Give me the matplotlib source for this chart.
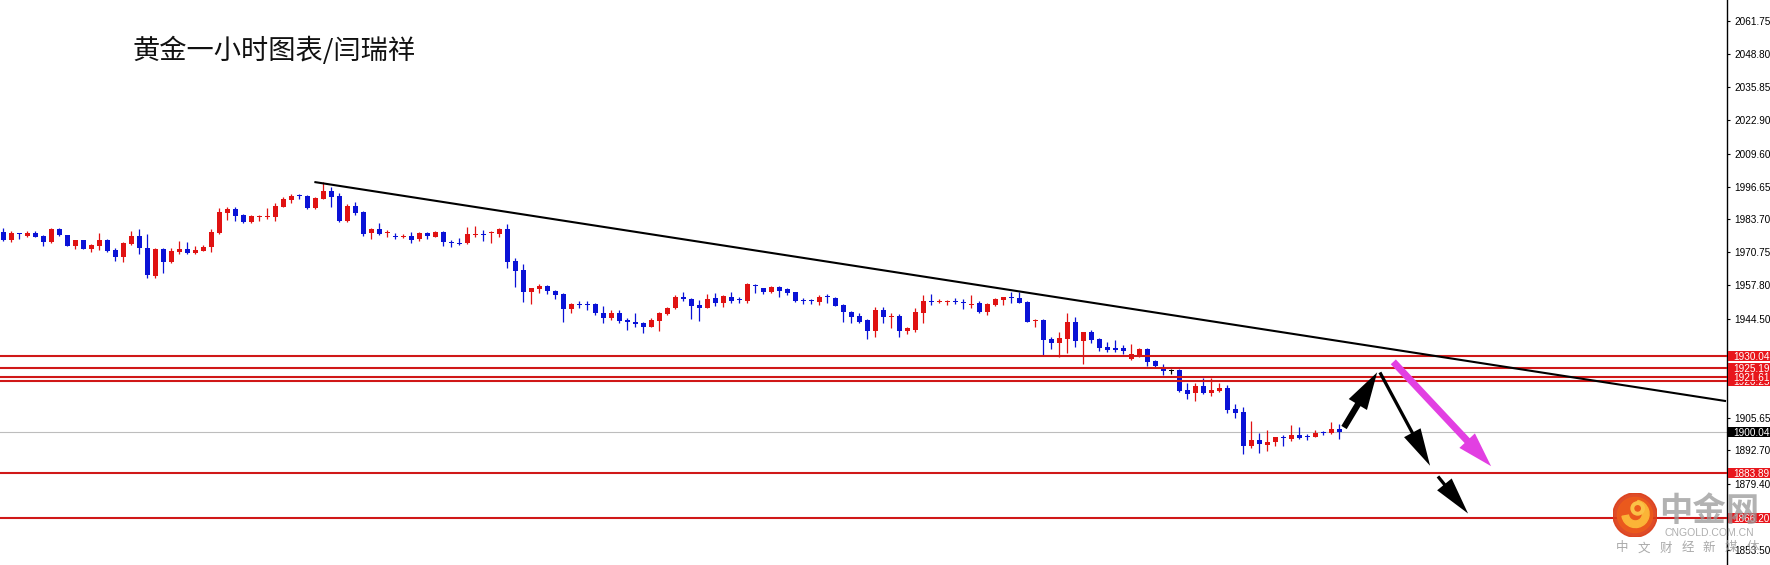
import matplotlib
matplotlib.use("Agg")
import matplotlib.pyplot as plt
from matplotlib.patches import FancyArrowPatch, Circle, Wedge, Rectangle
from matplotlib.transforms import blended_transform_factory

plt.rcParams['font.family'] = ['Liberation Sans', 'DejaVu Sans']

# hourly gold candles
opens = [1978.6, 1975.6, 1978.3, 1977.2, 1978.3, 1977.1, 1974.8, 1979.8, 1977.5, 1973.4,
         1975.5, 1972.2, 1973.4, 1975.6, 1971.7, 1969.0, 1974.0, 1977.1, 1972.3, 1961.6,
         1971.9, 1966.8, 1971.0, 1972.1, 1970.4, 1971.4, 1972.7, 1978.5, 1986.4, 1987.8,
         1985.5, 1982.6, 1984.8, 1984.8, 1984.8, 1988.8, 1991.4, 1993.1, 1993.0, 1988.4,
         1991.9, 1994.9, 1993.0, 1983.2, 1989.0, 1986.7, 1978.2, 1979.8, 1978.2, 1977.2,
         1976.9, 1977.2, 1975.9, 1978.2, 1976.9, 1978.8, 1974.7, 1974.4, 1974.3, 1977.6,
         1978.0, 1978.2, 1978.0, 1980.0, 1967.3, 1963.8, 1955.3, 1956.4, 1957.6, 1955.5,
         1954.3, 1948.3, 1950.3, 1950.3, 1950.3, 1947.0, 1945.0, 1947.0, 1944.1, 1943.4,
         1942.8, 1941.5, 1943.8, 1946.5, 1948.7, 1953.3, 1952.4, 1950.0, 1949.0, 1952.6,
         1950.7, 1953.3, 1952.2, 1951.7, 1958.0, 1956.6, 1955.3, 1957.2, 1956.2, 1955.0,
         1952.0, 1951.7, 1951.3, 1953.6, 1952.6, 1950.0, 1947.4, 1945.7, 1944.1, 1939.8,
         1948.0, 1945.3, 1945.7, 1939.9, 1940.0, 1947.0, 1951.7, 1951.1, 1951.2, 1951.6,
         1951.1, 1950.1, 1950.9, 1947.4, 1950.0, 1952.0, 1953.0, 1952.8, 1951.3, 1943.7,
         1944.1, 1936.6, 1935.2, 1936.7, 1943.3, 1935.8, 1939.2, 1936.6, 1933.6, 1933.2,
         1932.9, 1928.7, 1930.3, 1932.7, 1927.9, 1925.7, 1924.1, 1924.4, 1916.5, 1915.2,
         1918.1, 1915.5, 1916.1, 1917.4, 1909.0, 1907.9, 1894.6, 1896.8, 1895.0, 1895.9,
         1898.1, 1897.2, 1898.7, 1898.1, 1898.1, 1899.7, 1899.4, 1901.2]
highs = [1980.2, 1979.2, 1978.3, 1979.2, 1979.2, 1977.6, 1980.2, 1980.3, 1977.7, 1975.6,
         1975.6, 1974.0, 1978.3, 1975.9, 1972.3, 1975.0, 1979.2, 1979.9, 1978.0, 1972.6,
         1972.3, 1972.3, 1975.1, 1974.7, 1973.3, 1973.5, 1979.8, 1988.1, 1988.8, 1988.6,
         1985.7, 1985.5, 1985.5, 1988.2, 1990.3, 1992.7, 1993.6, 1993.7, 1993.4, 1992.4,
         1998.5, 1996.4, 1994.3, 1989.8, 1990.5, 1987.0, 1980.2, 1982.2, 1979.6, 1978.2,
         1977.9, 1978.6, 1978.8, 1978.9, 1979.2, 1979.2, 1975.6, 1976.3, 1980.9, 1981.1,
         1979.4, 1979.0, 1980.5, 1981.9, 1968.7, 1966.0, 1956.7, 1958.3, 1958.0, 1955.9,
         1954.6, 1950.7, 1951.5, 1951.7, 1950.7, 1949.6, 1948.0, 1948.0, 1944.8, 1947.0,
         1943.4, 1944.8, 1947.4, 1949.4, 1954.0, 1955.1, 1952.9, 1952.0, 1954.3, 1954.7,
         1954.0, 1955.1, 1953.2, 1958.6, 1958.3, 1956.8, 1957.5, 1957.5, 1956.6, 1955.3,
         1952.9, 1952.5, 1954.1, 1954.2, 1953.0, 1950.3, 1947.8, 1946.7, 1944.4, 1949.4,
         1949.4, 1946.7, 1946.5, 1941.5, 1948.7, 1954.0, 1954.2, 1952.2, 1952.0, 1952.6,
         1952.4, 1954.0, 1951.5, 1950.9, 1952.6, 1953.3, 1955.3, 1955.3, 1951.6, 1944.4,
         1944.4, 1937.5, 1939.5, 1946.7, 1945.4, 1939.5, 1940.2, 1936.9, 1935.6, 1936.2,
         1934.3, 1934.5, 1933.2, 1932.9, 1928.3, 1926.6, 1924.8, 1924.7, 1919.2, 1919.2,
         1921.1, 1921.1, 1919.2, 1918.5, 1911.0, 1909.7, 1904.4, 1899.4, 1900.8, 1898.1,
         1898.8, 1902.7, 1901.8, 1899.1, 1900.8, 1900.4, 1903.8, 1903.0]
lows = [1975.2, 1974.7, 1976.0, 1976.7, 1976.7, 1973.4, 1974.3, 1977.2, 1973.3, 1972.2,
        1972.1, 1970.8, 1971.7, 1971.0, 1967.3, 1967.1, 1973.8, 1970.0, 1960.5, 1960.5,
        1962.7, 1966.7, 1970.0, 1970.1, 1970.1, 1971.3, 1970.8, 1978.0, 1983.5, 1983.0,
        1982.4, 1982.4, 1983.2, 1983.8, 1983.2, 1988.5, 1990.1, 1991.8, 1987.7, 1988.0,
        1991.6, 1988.8, 1982.8, 1982.8, 1985.5, 1977.3, 1976.1, 1977.7, 1976.7, 1976.1,
        1976.4, 1974.6, 1975.4, 1975.9, 1976.7, 1973.4, 1972.7, 1973.7, 1974.0, 1976.9,
        1975.4, 1974.6, 1976.9, 1964.5, 1957.2, 1951.2, 1950.3, 1954.6, 1954.2, 1952.4,
        1943.4, 1947.0, 1948.7, 1948.0, 1946.1, 1942.8, 1944.1, 1942.8, 1940.2, 1941.5,
        1939.1, 1941.2, 1939.9, 1946.1, 1948.4, 1951.6, 1944.5, 1943.8, 1948.7, 1949.7,
        1949.4, 1950.9, 1950.9, 1950.9, 1954.6, 1954.3, 1954.6, 1953.3, 1954.1, 1951.2,
        1950.3, 1950.4, 1950.0, 1950.9, 1949.6, 1943.4, 1942.8, 1942.8, 1936.7, 1937.5,
        1942.8, 1940.8, 1937.5, 1938.6, 1939.5, 1942.8, 1950.0, 1950.7, 1950.0, 1950.5,
        1948.6, 1948.7, 1947.0, 1946.1, 1949.7, 1950.0, 1950.9, 1950.7, 1943.2, 1941.2,
        1930.3, 1932.5, 1929.4, 1931.2, 1933.3, 1926.6, 1934.9, 1932.0, 1931.6, 1931.5,
        1930.6, 1928.3, 1929.7, 1926.0, 1925.7, 1922.4, 1922.7, 1915.9, 1913.0, 1912.3,
        1914.9, 1914.3, 1915.6, 1907.6, 1905.4, 1891.3, 1893.5, 1891.8, 1892.6, 1894.5,
        1894.5, 1896.6, 1897.2, 1896.8, 1897.9, 1898.8, 1899.1, 1897.2]
closes = [1975.6, 1978.5, 1978.0, 1978.5, 1976.9, 1975.0, 1979.8, 1977.5, 1973.4, 1975.5,
          1972.2, 1973.6, 1975.6, 1971.4, 1969.0, 1974.3, 1977.2, 1972.3, 1961.8, 1972.1,
          1966.8, 1971.3, 1972.2, 1970.4, 1971.7, 1973.0, 1978.8, 1986.5, 1987.8, 1985.2,
          1982.6, 1985.1, 1985.2, 1985.1, 1989.0, 1991.6, 1993.0, 1992.8, 1988.1, 1992.0,
          1994.9, 1992.6, 1983.2, 1989.2, 1986.4, 1978.0, 1979.8, 1978.0, 1978.8, 1976.9,
          1977.2, 1975.6, 1978.2, 1977.1, 1978.8, 1974.7, 1974.4, 1974.2, 1977.9, 1977.9,
          1977.7, 1978.5, 1980.0, 1967.1, 1963.5, 1955.3, 1956.6, 1957.6, 1955.4, 1954.0,
          1948.3, 1950.3, 1950.0, 1950.0, 1946.7, 1945.0, 1947.0, 1943.7, 1943.2, 1942.4,
          1941.5, 1944.1, 1947.0, 1949.0, 1953.3, 1952.2, 1949.6, 1949.0, 1952.4, 1950.7,
          1953.6, 1951.7, 1952.0, 1958.2, 1957.6, 1955.1, 1957.2, 1955.7, 1954.9, 1951.7,
          1951.7, 1951.5, 1953.3, 1953.3, 1949.7, 1947.1, 1945.2, 1943.4, 1939.9, 1948.0,
          1945.2, 1945.7, 1939.9, 1940.8, 1947.1, 1951.6, 1951.3, 1951.5, 1951.6, 1951.2,
          1950.7, 1950.5, 1947.4, 1950.4, 1952.2, 1953.0, 1952.6, 1950.9, 1943.4, 1944.1,
          1936.2, 1935.2, 1937.0, 1943.3, 1936.0, 1939.2, 1936.2, 1933.2, 1932.3, 1932.3,
          1931.9, 1930.6, 1932.7, 1927.7, 1926.0, 1924.1, 1924.1, 1916.1, 1914.9, 1918.1,
          1915.5, 1916.5, 1917.4, 1908.6, 1907.6, 1894.6, 1896.8, 1895.1, 1896.2, 1897.9,
          1897.5, 1898.7, 1897.7, 1897.9, 1899.4, 1899.4, 1901.2, 1900.04]

# support / resistance levels and their price tags
level_prices = [1930.04, 1925.19, 1921.61, 1920.25, 1883.89, 1866.20]
level_labels = ["1930.04", "1925.19", "1921.61", "1920.25", "1883.89", "1866.20"]
last_price = 1900.04

# axis ticks that are not hidden under a price tag
tick_values = [2061.75, 2048.80, 2035.85, 2022.90, 2009.60, 1996.65, 1983.70, 1970.75,
               1957.80, 1944.50, 1905.65, 1892.70, 1879.40, 1853.50]

# downtrend line (bar index, price)
trend_x = [39.0, 215.2]
trend_y = [1998.4, 1912.2]

# forecast arrows: (start bar, start price, end bar, end price)
up_arrow = (167.4, 1900.8, 171.9, 1924.4)
down_arrows = [(171.9, 1924.4, 178.5, 1885.7),
               (179.1, 1883.3, 183.3, 1867.0)]
pink_arrow = (173.5, 1928.4, 186.2, 1885.7)

RED = '#e01212'
BLUE = '#0a12d6'

fig = plt.figure(figsize=(17.7, 5.65), dpi=100)
ax = fig.add_axes([0, 0, 1727 / 1770, 1])
ax.set_xlim(-0.425, 215.45)
ax.set_ylim(1847.56, 2070.18)

# candles
for i in range(len(opens)):
    o, h, l, c = opens[i], highs[i], lows[i], closes[i]
    if c > o:
        col = RED
    elif c < o:
        col = BLUE
    else:
        col = 'black'
    ax.vlines(i, l, h, color=col, lw=0.9, zorder=3)
    ax.bar(i, max(abs(c - o), 0.4), bottom=min(o, c), width=0.64,
           color=col, linewidth=0, zorder=3)

# horizontal levels
for p in level_prices:
    ax.axhline(p, color='#d01818', lw=1.5, zorder=4)
ax.axhline(last_price, color='#bdbdbd', lw=0.8, zorder=2)

# trend line
ax.plot(trend_x, trend_y, color='black', lw=1.5, zorder=5)

x0, y0, x1, y1 = up_arrow
ax.add_patch(FancyArrowPatch((x0, y0), (x1, y1),
             arrowstyle='simple,head_length=1.5,head_width=0.85,tail_width=0.25',
             mutation_scale=18, color='black', lw=0, zorder=6))
for x0, y0, x1, y1 in down_arrows:
    ax.add_patch(FancyArrowPatch((x0, y0), (x1, y1),
                 arrowstyle='simple,head_length=1.5,head_width=0.75,tail_width=0.13',
                 mutation_scale=18, color='black', lw=0, zorder=6))
x0, y0, x1, y1 = pink_arrow
ax.add_patch(FancyArrowPatch((x0, y0), (x1, y1),
             arrowstyle='simple,head_length=1.4,head_width=0.85,tail_width=0.28',
             mutation_scale=18, color='#e23fe2', lw=0, zorder=6))

# right price axis
for s in ['left', 'top', 'bottom']:
    ax.spines[s].set_visible(False)
ax.spines['right'].set_color('black')
ax.spines['right'].set_linewidth(1.0)
ax.yaxis.tick_right()
ax.set_yticks(tick_values)
ax.set_yticklabels([f"{v:.2f}" for v in tick_values])
ax.tick_params(axis='y', direction='out', length=2.5, width=0.8, pad=3,
               labelsize=7.2, colors='black')
ax.set_xticks([])

# price tags on the axis: flat boxes about 42 x 10 px
trans = blended_transform_factory(ax.transAxes, ax.transData)
box_w = 42 / 1727
box_h = 10 / 2.538


def price_tag(p, text, face, z):
    ax.add_patch(Rectangle((1.0005, p - box_h / 2), box_w, box_h, transform=trans,
                           facecolor=face, edgecolor='none', clip_on=False, zorder=z))
    ax.text(1.0035, p, text, transform=trans, ha='left', va='center_baseline',
            fontsize=7.2, color='white', clip_on=False, zorder=z + 0.5)


for k, (p, lab) in enumerate(zip(level_prices, level_labels)):
    price_tag(p, lab, '#e8161c', 20 - k)
price_tag(last_price, f"{last_price:.2f}", 'black', 21)

# title
fig.text(133 / 1770, 1 - 51 / 565, "黄金一小时图表/闫瑞祥", fontsize=19.6,
         family=['Noto Sans CJK SC', 'DejaVu Sans'], ha='left', va='center', color='#111111')

# watermark logo (square inset so the circle stays round)
logo = fig.add_axes([(1635 - 22) / 1770, 1 - (515 + 22) / 565, 44 / 1770, 44 / 565])
logo.set_xlim(-1, 1)
logo.set_ylim(-1, 1)
logo.axis('off')
logo.patch.set_alpha(0)
logo.add_patch(Circle((0, 0), 1.0, color='#dc3d17', alpha=0.92))
logo.add_patch(Circle((0, 0), 0.8, color='#ec5b1c', alpha=0.92))
logo.add_patch(Wedge((0.02, 0.05), 0.62, 190, 80, width=0.3, color='#fbb437'))
logo.add_patch(Circle((0.12, 0.3), 0.3, color='#fbc247'))
logo.add_patch(Circle((0.12, 0.3), 0.12, color='#ec5b1c'))

fig.text(1709 / 1770, 1 - 512 / 565, "中金网", fontsize=24, fontweight='bold',
         family=['Noto Sans CJK SC', 'DejaVu Sans'], ha='center', va='center',
         color='#999999', alpha=0.75, zorder=12)
fig.text(1709 / 1770, 1 - 533 / 565, "CNGOLD.COM.CN", fontsize=7.5, ha='center', va='center',
         color='#a0a0a0', alpha=0.85, zorder=12)
sub = "中文财经新媒体"
for k, ch in enumerate(sub):
    fig.text((1622 + k * 21.8) / 1770, 1 - 548 / 565, ch, fontsize=9,
             family=['Noto Sans CJK SC', 'DejaVu Sans'], ha='center', va='center',
             color='#9a9a9a', alpha=0.85, zorder=12)

fig.savefig("out.png", dpi=100, facecolor='white')
